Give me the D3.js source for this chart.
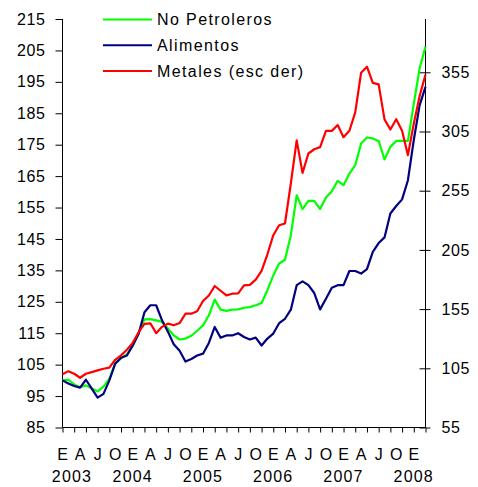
<!DOCTYPE html>
<html>
<head>
<meta charset="utf-8">
<script src="https://cdn.jsdelivr.net/npm/d3@7"></script>
<style>
  body { margin: 0; background: #fff; }
  text { font-family: "Liberation Sans", Arial, sans-serif; fill: #000; }
</style>
</head>
<body>
<div id="chart"></div>
<script>
// monthly index, Jan 2003 = 100
const noPetroleros = [100, 100.2, 98.7, 97.8, 98.4, 97.4, 96.5, 98, 100.5, 105.4, 107, 108.3,
  111.1, 115, 119.4, 119.5, 119.1, 118.6, 116.5, 114.3, 113, 113.3, 114.2, 115.8,
  117.5, 120.7, 125.7, 122.5, 122.1, 122.5, 122.6, 123.1, 123.3, 123.9, 124.6, 128.7,
  133.4, 137.2, 138.4, 146.2, 158.9, 154.5, 157.1, 157.1, 154.5, 158.2, 160.2, 163.5,
  162.1, 165.8, 168.5, 175.4, 177.3, 177, 176.2, 170.3, 174.3, 176.2, 176.2, 176.2,
  188, 199.3, 206.2]
const alimentos = [100, 99, 98.2, 97.7, 100.2, 97.4, 94.5, 95.7, 100, 105.3, 107.2, 107.9,
  111.1, 114.8, 121.7, 123.9, 123.9, 119.1, 115.5, 111.5, 109.4, 106, 106.8, 107.9,
  108.5, 111.9, 117, 113.6, 114.3, 114.3, 115, 113.8, 113, 113.6, 111.1, 113.3,
  114.9, 118.2, 119.6, 122.5, 130.3, 131.5, 130.3, 127.8, 122.6, 126, 129.5, 130.3,
  130.3, 134.8, 134.8, 134, 135.4, 140.9, 143.7, 145.5, 153.1, 155.5, 157.6, 163.7,
  176.5, 187.6, 193.4]
const metales = [100, 102.6, 100.4, 97, 100.4, 101.8, 103.2, 104.6, 105.5, 112.2, 115.9, 120.7,
  126.5, 135.5, 142.5, 143, 134.7, 140, 142.7, 141.3, 143.2, 151.1, 151.1, 153.2,
  161.8, 166.5, 174.5, 170.5, 166.6, 168, 168.3, 175, 175.5, 179.9, 187.2, 201.3,
  217.4, 225.8, 227.3, 261.1, 297.5, 270, 286.4, 290, 291.8, 305.5, 305.5, 310.4,
  300.2, 305.6, 321.2, 354.6, 359.7, 346.1, 344.8, 315.2, 306.7, 315.4, 305.6, 285,
  311.8, 334.9, 353]

const monthLetters = ["E", "A", "J", "O"]
const years = ["2003", "2004", "2005", "2006", "2007", "2008"]
const leftTicks = d3.range(85, 216, 10)
const rightTicks = d3.range(55, 356, 50)

const series = [
  {name: "No Petroleros", values: noPetroleros, color: "#00ff00", axis: "left"},
  {name: "Alimentos", values: alimentos, color: "#000080", axis: "left"},
  {name: "Metales (esc der)", values: metales, color: "#ff0000", axis: "right"}
]

const W = 478, H = 487
const L = 62.5, R = 425.5, T = 19, B = 427.5

const svg = d3.select("#chart").append("svg")
    .attr("width", W)
    .attr("height", H)

const x = d3.scaleLinear().domain([0, noPetroleros.length - 1]).range([L, R])
const yL = d3.scaleLinear().domain([85, 215]).range([B, T])
const yR = d3.scaleLinear().domain([55, 400]).range([B, T])

// left axis
const gl = svg.append("g")
    .attr("transform", `translate(${L},0)`)
    .call(d3.axisLeft(yL).tickValues(leftTicks).tickSizeOuter(0).tickSize(7).tickPadding(10))
gl.select(".domain").attr("d", `M0,${T}V${B}`)

// right axis (ticks cross the line)
const gr = svg.append("g")
    .attr("transform", `translate(${R},0)`)
    .call(d3.axisRight(yR).tickValues(rightTicks).tickSizeOuter(0).tickSize(5).tickPadding(11))
gr.select(".domain").attr("d", `M0,${T}V${B}`)
gr.selectAll(".tick line").attr("x1", -6)

// bottom axis, tick every two months
const gb = svg.append("g")
    .attr("transform", `translate(0,${B})`)
    .call(d3.axisBottom(x).tickValues(d3.range(0, noPetroleros.length, 2)).tickSizeOuter(0).tickSize(5).tickFormat(""))
gb.select(".domain").attr("d", `M${L},0H${R}`)

svg.selectAll(".tick text")
    .style("font-family", '"Liberation Sans", Arial, sans-serif')
    .style("font-size", "16px")
    .style("letter-spacing", "0.6px")
    .attr("fill", "#000")
svg.selectAll(".domain, .tick line").attr("stroke", "#000")

// month letters every quarter
const quarters = d3.range(0, noPetroleros.length, 3)
svg.append("g").selectAll("text")
    .data(quarters)
    .join("text")
    .attr("x", d => x(d))
    .attr("y", 460)
    .attr("text-anchor", "middle")
    .style("font-size", "16px")
    .text(d => monthLetters[(d / 3) % 4])

// year labels
svg.append("g").selectAll("text")
    .data(years)
    .join("text")
    .attr("x", (d, i) => Math.max(x(i * 12), 72))
    .attr("y", 482)
    .attr("text-anchor", "middle")
    .style("font-size", "16px")
    .style("letter-spacing", "1.2px")
    .text(d => d)

// lines
const line = scale => d3.line()
    .x((d, i) => x(i))
    .y(d => scale(d))

svg.append("g").selectAll("path")
    .data(series)
    .join("path")
    .attr("fill", "none")
    .attr("stroke", d => d.color)
    .attr("stroke-width", 2.2)
    .attr("stroke-linejoin", "round")
    .attr("d", d => line(d.axis === "left" ? yL : yR)(d.values))

// legend
const legend = svg.append("g").selectAll("g")
    .data(series)
    .join("g")
    .attr("transform", (d, i) => `translate(103,${19.5 + i * 25.8})`)
legend.append("line")
    .attr("x1", 0).attr("x2", 49)
    .attr("stroke", d => d.color)
    .attr("stroke-width", 2)
legend.append("text")
    .attr("x", 54)
    .attr("y", 5.5)
    .style("font-size", "16px")
    .style("letter-spacing", "1.4px")
    .text(d => d.name)
</script>
</body>
</html>
